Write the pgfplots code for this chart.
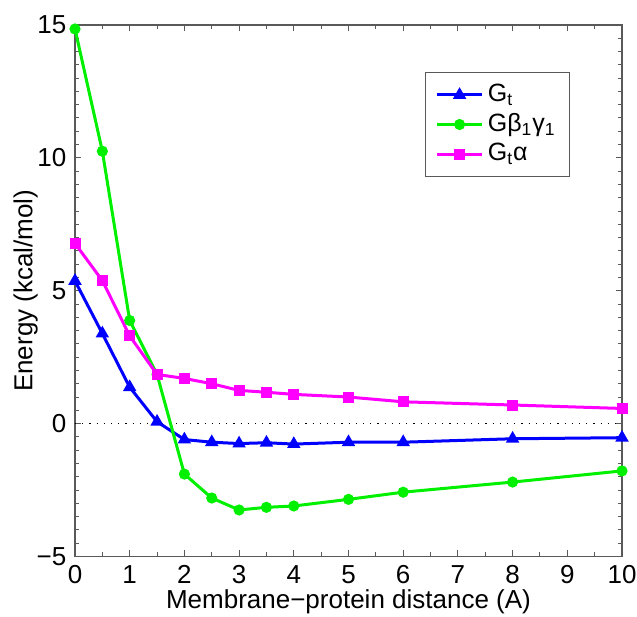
\documentclass[border=0pt]{standalone}
\usepackage{pgfplots}
\pgfplotsset{compat=1.18}
\usepackage{fontspec}
\setmainfont{Liberation Sans}
\definecolor{mblue}{RGB}{0,0,255}
\definecolor{mgreen}{RGB}{0,240,0}
\definecolor{mmag}{RGB}{255,0,255}
\begin{document}
\fontsize{12.5}{15}\selectfont
\begin{tikzpicture}
\begin{axis}[
  scale only axis,
  width=273.5pt,
  height=265.75pt,
  xmin=0, xmax=10,
  ymin=-5, ymax=15,
  xtick={0,1,...,10},
  ytick={-5,0,5,10,15},
  yticklabels={−5,0,5,10,15},
  minor x tick num=1,
  minor y tick num=9,
  tick align=inside,
  major tick length=3pt,
  minor tick length=2pt,
  axis line style={black!65, line width=0.6pt},
  every tick/.style={black!65, line width=0.5pt},
  tick label style={font=\fontsize{13}{15}\selectfont},
  label style={font=\fontsize{13}{15}\selectfont},
  /pgf/number format/assume math mode=true,
  xlabel={Membrane−protein distance (A)},
  ylabel={Energy (kcal/mol)},
  xlabel style={at={(axis description cs:0.5,-0.0856)}, anchor=center},
  ylabel style={at={(axis description cs:-0.09,0.5)}, anchor=center},
  legend style={at={(0.905,0.9116)}, anchor=north east, draw=black!65,
    font=\fontsize{12.5}{15}\selectfont, row sep=0pt, inner xsep=5pt, inner ysep=4pt},
  legend cell align=left,
  legend image code/.code={\draw[mark repeat=2,mark phase=2] plot coordinates {(0cm,0cm) (0.4cm,0cm) (0.8cm,0cm)};},
  every axis plot/.append style={line width=1.5pt},
]
% zero line
\addplot[black, dash pattern=on 0.6pt off 3pt, line width=0.6pt, forget plot] coordinates {(0,0) (10,0)};
\addplot[mblue, mark=triangle*, mark size=2.4pt] coordinates {
(0,5.37) (0.5,3.39) (1,1.37) (1.5,0.07) (2,-0.6) (2.5,-0.7) (3,-0.75)
(3.5,-0.72) (4,-0.77) (5,-0.7) (6,-0.7) (8,-0.57) (10,-0.53)
};
\addplot[mgreen, mark=*, mark size=2pt] coordinates {
(0,14.85) (0.5,10.25) (1,3.88) (1.5,1.85) (2,-1.9) (2.5,-2.8) (3,-3.25)
(3.5,-3.15) (4,-3.1) (5,-2.85) (6,-2.58) (8,-2.2) (10,-1.78)
};
\addplot[mmag, mark=square*, mark size=2pt] coordinates {
(0,6.78) (0.5,5.38) (1,3.3) (1.5,1.85) (2,1.7) (2.5,1.5) (3,1.25)
(3.5,1.18) (4,1.1) (5,1.0) (6,0.82) (8,0.7) (10,0.57)
};
\legend{G\textsubscript{t}, Gβ\textsubscript{1}γ\textsubscript{1}, G\textsubscript{t}α}
\end{axis}
\pgfresetboundingbox
\path ([xshift=-37.5pt,yshift=-30.25pt]current axis.south west) rectangle ([xshift=7.5pt,yshift=12.5pt]current axis.north east);
\end{tikzpicture}
\end{document}
